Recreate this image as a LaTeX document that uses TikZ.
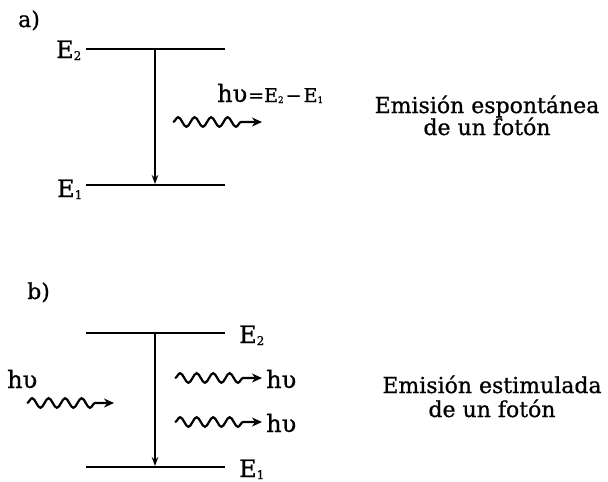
\documentclass[tikz,border=0pt]{standalone}
\usepackage{fontspec}
\setmainfont[FakeBold=0.8]{DejaVu Serif}
\usetikzlibrary{decorations.pathmorphing,arrows.meta}
\newcommand{\sbs}[1]{\raisebox{-2pt}{\fontsize{12}{12}\selectfont #1}}
\newcommand{\ssbs}[1]{\raisebox{-1pt}{\fontsize{9}{9}\selectfont #1}}
\tikzset{
  level/.style={line width=1.3pt},
  trans/.style={line width=1.4pt,-{Stealth[length=9pt,width=6.5pt]}},
  photon/.style={line width=2.2pt,-{Stealth[length=10pt,width=9pt]},
    decorate,decoration={snake,segment length=16.5pt,amplitude=4.8pt,post length=17pt}},
  lab/.style={inner sep=0pt,anchor=base west,font=\fontsize{24}{24}\selectfont},
  plab/.style={inner sep=0pt,anchor=base west,font=\fontsize{22}{22}\selectfont},
  desc/.style={inner sep=0pt,anchor=base,font=\fontsize{22}{24}\selectfont},
}
\begin{document}
\begin{tikzpicture}[x=1pt,y=-1pt]
\useasboundingbox (0,0) rectangle (608,482);
% a)
\node[plab] (a) at (18,27) {a)};
\coordinate (a2l) at (86,49); \coordinate (a2r) at (225,49);
\coordinate (a1l) at (86,185); \coordinate (a1r) at (225,185);
\draw[level] (a2l) -- (a2r);
\draw[level] (a1l) -- (a1r);
\node[lab] (aE2) at (56,58) {E\sbs{2}};
\node[lab] (aE1) at (57,197) {E\sbs{1}};
\coordinate (at) at (155,49); \coordinate (ab) at (155,184);
\draw[trans] (at) -- (ab);
\coordinate (aw1) at (173,122); \coordinate (aw2) at (262,122);
\draw[photon] (aw1) -- (aw2);
\node[lab] (ahv) at (217,102) {hυ\kern1pt{\fontsize{19}{19}\selectfont=E\ssbs{2}\kern2pt−\kern2pt E\ssbs{1}}};
\node[desc] (adesc1) at (487,113) {Emisión espontánea};
\node[desc] (adesc2) at (487,135) {de un fotón};
% b)
\node[plab] (b) at (27,299) {b)};
\coordinate (b2l) at (86,333); \coordinate (b2r) at (225,333);
\coordinate (b1l) at (86,467); \coordinate (b1r) at (225,467);
\draw[level] (b2l) -- (b2r);
\draw[level] (b1l) -- (b1r);
\node[lab] (bE2) at (239,343) {E\sbs{2}};
\node[lab] (bE1) at (239,477) {E\sbs{1}};
\coordinate (bt) at (155,333); \coordinate (bb) at (155,466);
\draw[trans] (bt) -- (bb);
\node[lab] (bhv0) at (7,388) {hυ};
\coordinate (bw1) at (27,403); \coordinate (bw2) at (114,403);
\draw[photon] (bw1) -- (bw2);
\coordinate (bu1) at (175,378); \coordinate (bu2) at (262,378);
\coordinate (bd1) at (175,422); \coordinate (bd2) at (262,422);
\draw[photon] (bu1) -- (bu2);
\draw[photon] (bd1) -- (bd2);
\node[lab] (bhv1) at (266,388) {hυ};
\node[lab] (bhv2) at (266,432) {hυ};
\node[desc] (bdesc1) at (492,393) {Emisión estimulada};
\node[desc] (bdesc2) at (492,417) {de un fotón};
\end{tikzpicture}
\end{document}
